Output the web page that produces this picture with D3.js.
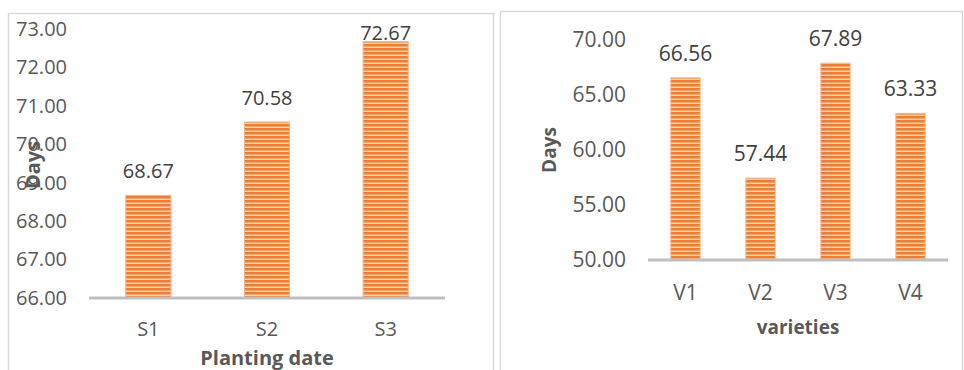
<!DOCTYPE html>
<html>
<head>
<meta charset="utf-8">
<script src="https://cdn.jsdelivr.net/npm/d3@7/dist/d3.min.js"></script>
<style>
  html, body { margin: 0; padding: 0; background: #fff; }
  svg { display: block; font-family: "Open Sans", "Noto Sans", sans-serif; }
</style>
</head>
<body>
<svg id="chart" width="964" height="370"></svg>
<script>
// Planting date panel
const plantingDates = ["S1", "S2", "S3"];
const plantingDays = [68.67, 70.58, 72.67];
const plantingTicks = [66, 67, 68, 69, 70, 71, 72, 73];

// Varieties panel
const varieties = ["V1", "V2", "V3", "V4"];
const varietyDays = [66.56, 57.44, 67.89, 63.33];
const varietyTicks = [50, 55, 60, 65, 70];

const svg = d3.select("#chart");
const textColor = "#595959";

// Striped orange fill used by every bar
const defs = svg.append("defs");
const pat = defs.append("pattern")
  .attr("id", "stripes")
  .attr("patternUnits", "userSpaceOnUse")
  .attr("width", 8).attr("height", 4);
pat.append("rect").attr("width", 8).attr("height", 4).attr("fill", "#F9D3B8");
pat.append("rect").attr("y", 0).attr("width", 8).attr("height", 2).attr("fill", "#ED7D31");
pat.append("rect").attr("y", 2).attr("width", 8).attr("height", 1).attr("fill", "#F4A56F");

// Panel frames
svg.append("rect").attr("x", 8.5).attr("y", 13.5).attr("width", 485).attr("height", 370)
  .attr("fill", "none").attr("stroke", "#d9d9d9").attr("stroke-width", 1.5);
svg.append("rect").attr("x", 500.5).attr("y", 11.5).attr("width", 462).attr("height", 370)
  .attr("fill", "none").attr("stroke", "#d9d9d9").attr("stroke-width", 1.5);

function drawPanel(cfg) {
  const g = svg.append("g");
  const x = d3.scaleBand().domain(cfg.categories).range([cfg.x0, cfg.x1])
    .paddingInner(cfg.pad).paddingOuter(cfg.pad / 2);
  const y = d3.scaleLinear().domain([cfg.ticks[0], cfg.ticks[cfg.ticks.length - 1]])
    .range([cfg.yBottom, cfg.yTop]);

  // Value axis labels
  const yAxis = d3.axisLeft(y).tickValues(cfg.ticks).tickFormat(d3.format(".2f"))
    .tickSize(0).tickPadding(0);
  const ya = g.append("g").attr("transform", `translate(${cfg.tickRight},0)`).call(yAxis);
  ya.select(".domain").remove();
  ya.selectAll("text").attr("fill", textColor).attr("font-size", cfg.fontSize)
    .attr("font-family", "'Open Sans', sans-serif");

  // Bars
  g.selectAll("rect.bar").data(cfg.values).join("rect")
    .attr("class", "bar")
    .attr("x", (d, i) => x(cfg.categories[i]))
    .attr("width", x.bandwidth())
    .attr("y", d => y(d))
    .attr("height", d => y(cfg.ticks[0]) - y(d))
    .attr("fill", "url(#stripes)")
    .attr("stroke", "#F4B183").attr("stroke-width", 1);

  // Value labels, kept inside the frame when a bar reaches the top
  g.selectAll("text.val").data(cfg.values).join("text")
    .attr("class", "val")
    .attr("x", (d, i) => x(cfg.categories[i]) + x.bandwidth() / 2)
    .attr("y", d => Math.max(y(d) - cfg.labelGap, cfg.labelMinY))
    .attr("text-anchor", "middle")
    .attr("fill", "#404040").attr("font-size", cfg.fontSize)
    .text(d => d.toFixed(2));

  // Category axis
  const xAxis = d3.axisBottom(x).tickSize(0).tickPadding(cfg.catPad);
  const xa = g.append("g").attr("transform", `translate(0,${cfg.yBottom})`).call(xAxis);
  xa.select(".domain").attr("stroke", "#BFBFBF").attr("stroke-width", 3)
    .attr("d", `M${cfg.x0},0H${cfg.x1}`);
  xa.selectAll("text").attr("fill", textColor).attr("font-size", cfg.fontSize)
    .attr("font-family", "'Open Sans', sans-serif");

  // Axis titles
  g.append("text")
    .attr("x", (cfg.x0 + cfg.x1) / 2).attr("y", cfg.xTitleY)
    .attr("text-anchor", "middle").attr("font-weight", "bold")
    .attr("fill", textColor).attr("font-size", cfg.titleSize)
    .text(cfg.xTitle);
  g.append("text")
    .attr("transform", `translate(${cfg.yTitleX},${cfg.yTitleY}) rotate(-90)`)
    .attr("text-anchor", "middle").attr("dominant-baseline", "central")
    .attr("font-weight", "bold")
    .attr("fill", textColor).attr("font-size", cfg.titleSize)
    .text("Days");
}

drawPanel({
  categories: plantingDates, values: plantingDays, ticks: plantingTicks,
  x0: 89, x1: 445, pad: 0.62, yTop: 29, yBottom: 298, tickRight: 67,
  fontSize: 20, titleSize: 20, labelGap: 17, labelMinY: 40, catPad: 24,
  xTitle: "Planting date", xTitleY: 365, yTitleX: 32, yTitleY: 165
});

drawPanel({
  categories: varieties, values: varietyDays, ticks: varietyTicks,
  x0: 648, x1: 948, pad: 0.61, yTop: 40, yBottom: 260, tickRight: 626,
  fontSize: 21, titleSize: 19, labelGap: 17, labelMinY: 20, catPad: 25,
  xTitle: "varieties", xTitleY: 334, yTitleX: 549, yTitleY: 150
});
</script>
</body>
</html>
